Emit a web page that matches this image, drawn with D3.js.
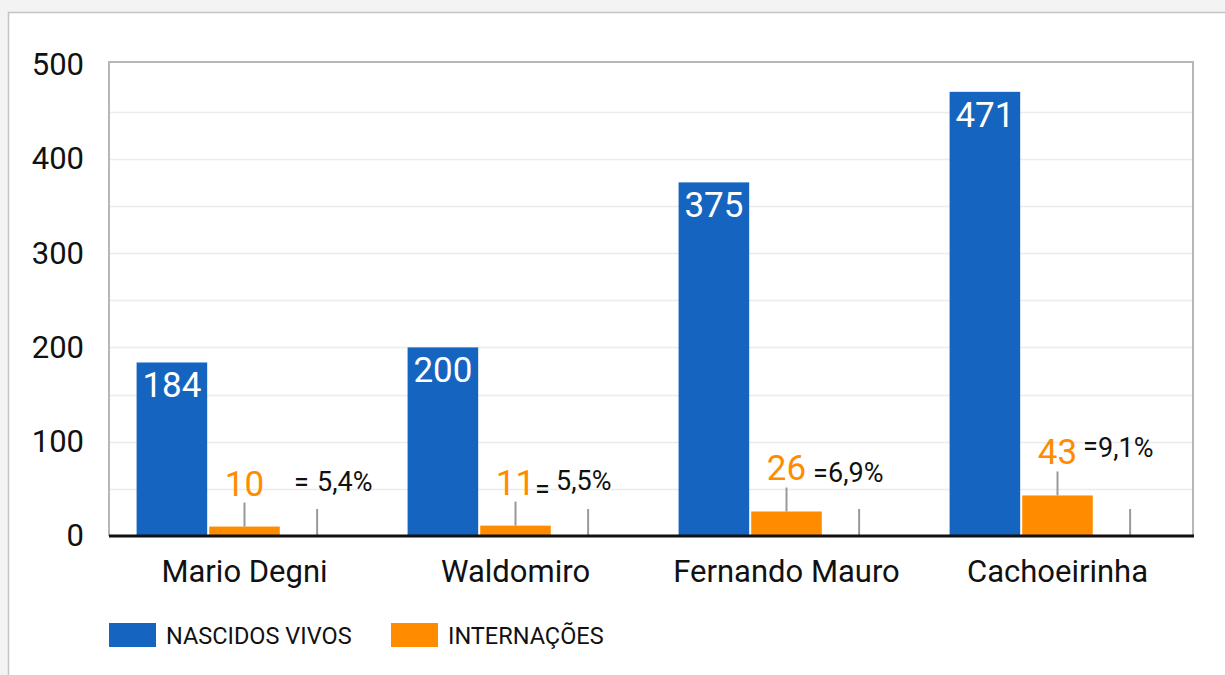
<!DOCTYPE html>
<html>
<head>
<meta charset="utf-8">
<script src="https://cdn.jsdelivr.net/npm/d3@7"></script>
<style>
  html, body { margin: 0; padding: 0; background: #f3f3f3; }
  svg { display: block; font-family: Roboto, "Noto Sans", sans-serif; }
</style>
</head>
<body>
<svg id="chart" width="1225" height="675"></svg>
<script>
// ---- data ----
const categories = ["Mario Degni", "Waldomiro", "Fernando Mauro", "Cachoeirinha"];
const seriesNames = ["NASCIDOS VIVOS", "INTERNAÇÕES"];
const nascidosVivos = [184, 200, 375, 471];
const internacoes = [10, 11, 26, 43];
const ratioLabels = ["5,4%", "5,5%", "6,9%", "9,1%"];
const yTicks = [0, 100, 200, 300, 400, 500];
const yMinorTicks = [50, 150, 250, 350, 450];

// ---- styles / layout ----
const colors = ["#1565c0", "#ff8c00"];
const plot = { left: 109, right: 1193, top: 62, bottom: 536 };
// hand placement of the "= x%" annotations (relative to the hidden 3rd slot / zero line)
const ratioPlacement = [
  { eqDx: -23, eqDy: -45, numDx: 0,   numDy: -45 },
  { eqDx: -53, eqDy: -38, numDx: -32, numDy: -46 },
  { eqDx: -46, eqDy: -54, numDx: -31, numDy: -54 },
  { eqDx: -47, eqDy: -81, numDx: -32, numDy: -79 }
];

const svg = d3.select("#chart");

// card
svg.append("rect").attr("x", 8.5).attr("y", 12.5).attr("width", 1240).attr("height", 700)
  .attr("fill", "#fff").attr("stroke", "#c4c4c4").attr("stroke-width", 1.5);

const x0 = d3.scaleBand().domain(categories).range([plot.left, plot.right]).paddingInner(0).paddingOuter(0);
const x1 = d3.scaleBand().domain([0, 1, 2]).range([0, x0.bandwidth()]).paddingOuter(0.38).paddingInner(0.028);
const y = d3.scaleLinear().domain([0, 500]).range([plot.bottom, plot.top + 2.5]);

// gridlines
svg.append("g").selectAll("line").data(yMinorTicks.concat(yTicks.slice(1, -1))).join("line")
  .attr("x1", plot.left).attr("x2", plot.right)
  .attr("y1", d => Math.round(y(d)) + 0.5).attr("y2", d => Math.round(y(d)) + 0.5)
  .attr("stroke", "#ececec").attr("stroke-width", 1.5);

// plot frame (left, top, right)
svg.append("path")
  .attr("d", `M${plot.left},${plot.bottom} V${plot.top} H${plot.right} V${plot.bottom}`)
  .attr("fill", "none").attr("stroke", "#b7b7b7").attr("stroke-width", 2);

// y axis
const yAxis = svg.append("g").attr("transform", `translate(${plot.left - 25},0)`)
  .call(d3.axisLeft(y).tickValues(yTicks).tickSize(0).tickPadding(0));
yAxis.select(".domain").remove();
yAxis.selectAll("text").attr("font-size", 31).attr("fill", "#111").attr("font-family", "Roboto");

const groups = svg.append("g").selectAll("g").data(categories).join("g")
  .attr("transform", d => `translate(${x0(d)},0)`);

// bars
groups.each(function (c, i) {
  const g = d3.select(this);
  const vals = [nascidosVivos[i], internacoes[i]];
  vals.forEach((v, s) => {
    g.append("rect")
      .attr("x", x1(s)).attr("width", x1.bandwidth())
      .attr("y", y(v)).attr("height", y(0) - y(v))
      .attr("fill", colors[s]);
  });
  // blue labels inside the bar top
  g.append("text")
    .attr("x", x1(0) + x1.bandwidth() / 2).attr("y", y(vals[0]) + 35)
    .attr("text-anchor", "middle").attr("font-size", 35).attr("fill", "#fff")
    .text(vals[0]);
  // orange stem + label above
  const cx = x1(1) + x1.bandwidth() / 2;
  g.append("line").attr("x1", cx).attr("x2", cx)
    .attr("y1", y(vals[1])).attr("y2", y(vals[1]) - 24)
    .attr("stroke", "#999").attr("stroke-width", 2);
  g.append("text")
    .attr("x", cx).attr("y", y(vals[1]) - 31)
    .attr("text-anchor", "middle").attr("font-size", 35).attr("fill", colors[1])
    .text(vals[1]);
  // hidden third slot: stem + ratio annotation
  const cx2 = x1(2) + x1.bandwidth() / 2;
  g.append("line").attr("x1", cx2).attr("x2", cx2)
    .attr("y1", y(0)).attr("y2", y(0) - 27)
    .attr("stroke", "#999").attr("stroke-width", 2);
  const p = ratioPlacement[i];
  const t = g.append("text").attr("font-size", 27).attr("fill", "#111");
  t.append("tspan").attr("x", cx2 + p.eqDx).attr("y", y(0) + p.eqDy).text("=");
  t.append("tspan").attr("x", cx2 + p.numDx).attr("y", y(0) + p.numDy).text(ratioLabels[i]);
});

// baseline
svg.append("line").attr("x1", plot.left).attr("x2", plot.right + 1)
  .attr("y1", plot.bottom).attr("y2", plot.bottom)
  .attr("stroke", "#111").attr("stroke-width", 3);

// x axis labels
const xAxis = svg.append("g").attr("transform", `translate(0,${plot.bottom})`)
  .call(d3.axisBottom(x0).tickSize(0).tickPadding(24));
xAxis.select(".domain").remove();
xAxis.selectAll("text").attr("font-size", 31).attr("fill", "#111").attr("font-family", "Roboto");

// legend
const legendX = [109, 391];
const legend = svg.append("g").selectAll("g").data(seriesNames).join("g")
  .attr("transform", (d, i) => `translate(${legendX[i]},623)`);
legend.append("rect").attr("width", 47).attr("height", 24).attr("fill", (d, i) => colors[i]);
legend.append("text").attr("x", 57).attr("y", 20.5).attr("font-size", 23.5).attr("fill", "#111").text(d => d);
</script>
</body>
</html>
